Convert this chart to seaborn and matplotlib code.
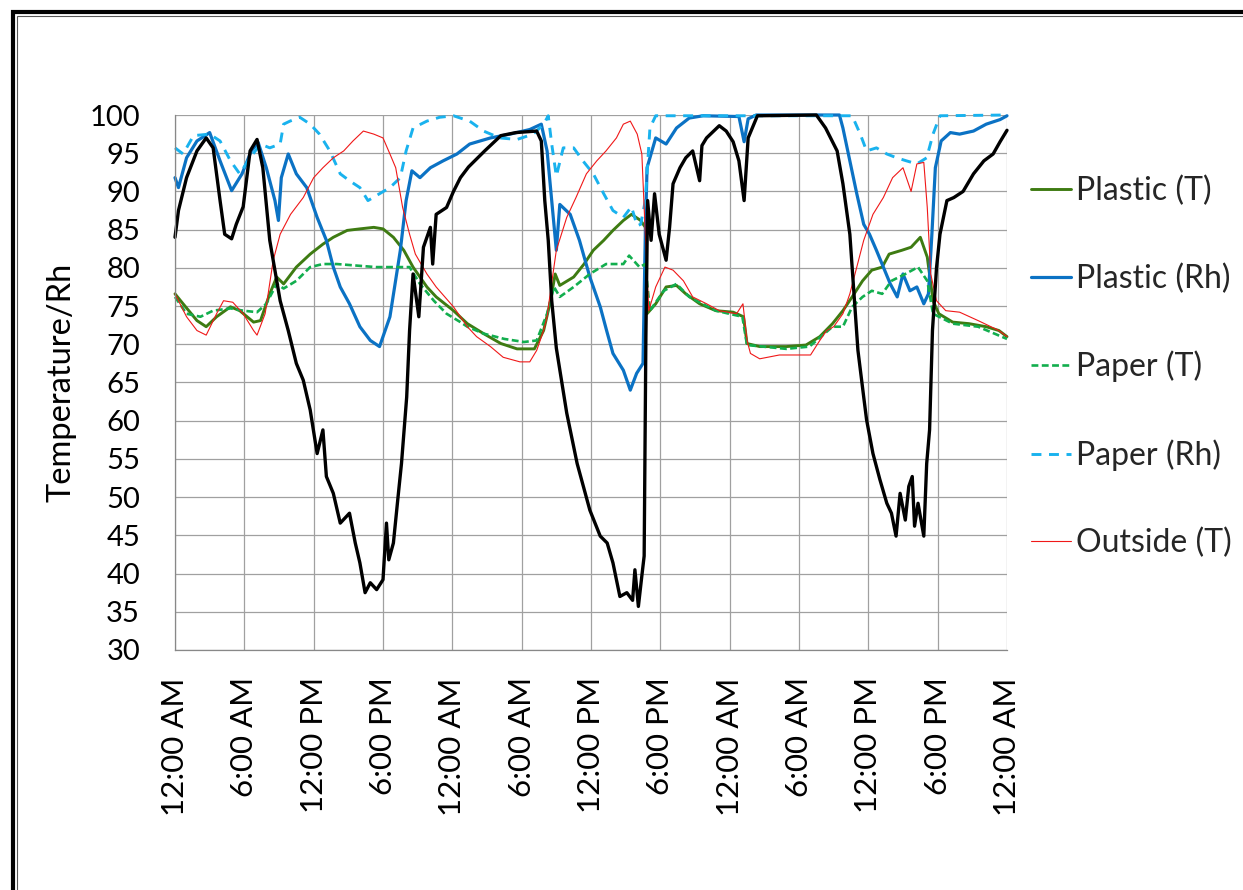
import matplotlib
matplotlib.use("Agg")
import matplotlib.pyplot as plt
import pandas as pd
import seaborn as sns
from matplotlib.lines import Line2D

# (hour since start, reading) pairs for each logger channel, three days of data
PLASTIC_T = [
    (0, 76.6), (0.7, 75.3), (1.9, 73.1), (2.7, 72.3), (3.6, 73.6), (4.8, 74.9), (5.6, 74.4),
    (6.8, 72.9), (7.4, 73.1), (8.2, 76.6), (8.8, 78.8), (9.4, 77.9), (10.5, 80.1), (11.7, 81.8),
    (12.8, 83.1), (13.7, 84.0), (14.9, 84.9), (16.0, 85.1), (17.2, 85.3), (18.0, 85.1),
    (18.9, 84.0), (19.8, 82.3), (20.6, 80.1), (21.8, 77.5), (22.6, 76.2), (24.1, 74.4),
    (25.3, 72.7), (26.7, 71.4), (28.2, 70.1), (29.6, 69.4), (31.1, 69.4), (31.9, 71.8),
    (32.5, 75.7), (32.9, 79.2), (33.3, 77.7), (34.5, 78.8), (35.4, 80.5), (36.2, 82.3),
    (37.1, 83.6), (37.9, 84.9), (38.8, 86.2), (39.5, 87.0), (40.3, 86.2), (40.7, 85.3),
    (40.85, 74.0), (41.6, 75.3), (42.5, 77.5), (43.4, 77.7), (44.2, 76.6), (45.4, 75.3),
    (46.8, 74.4), (48.3, 74.2), (49.2, 73.6), (49.5, 70.1), (50.6, 69.7), (52.9, 69.7),
    (54.6, 69.9), (55.8, 71.0), (56.9, 72.7), (57.8, 74.4), (58.6, 76.2), (59.5, 78.3),
    (60.3, 79.7), (61.2, 80.1), (61.8, 81.8), (62.9, 82.3), (63.7, 82.7), (64.5, 84.0),
    (65.1, 81.4), (65.6, 75.7), (66.1, 74.0), (67.3, 72.9), (68.7, 72.7), (70.2, 72.3),
    (71.3, 71.8), (72.0, 71.0),
]

PLASTIC_RH = [
    (0, 91.8), (0.3, 90.5), (1.0, 94.4), (1.9, 96.6), (3.0, 97.7), (3.9, 94.0), (4.9, 90.1),
    (5.8, 92.3), (6.6, 95.3), (7.2, 96.4), (7.9, 93.1), (8.65, 88.8), (8.95, 86.2), (9.2, 91.8),
    (9.8, 94.9), (10.5, 92.3), (11.4, 90.5), (12.3, 86.6), (13.1, 83.6), (13.7, 80.1),
    (14.3, 77.5), (15.1, 75.3), (16.0, 72.3), (16.9, 70.5), (17.7, 69.7), (18.6, 73.6),
    (19.5, 82.3), (20.0, 88.8), (20.5, 92.7), (21.2, 91.8), (22.1, 93.1), (23.2, 94.0),
    (24.4, 94.9), (25.5, 96.2), (27.3, 97.0), (29.0, 97.5), (30.7, 98.1), (31.7, 98.8),
    (32.2, 95.3), (32.6, 88.8), (33.0, 82.3), (33.3, 88.3), (34.2, 87.0), (35.0, 83.6),
    (35.9, 78.8), (36.8, 74.9), (37.35, 71.8), (37.9, 68.8), (38.8, 66.6), (39.4, 64.0),
    (39.95, 66.2), (40.5, 67.5), (40.7, 84.4), (40.85, 93.1), (41.6, 97.0), (42.5, 96.2),
    (43.4, 98.3), (44.5, 99.6), (45.7, 99.9), (48.8, 99.8), (49.25, 96.5), (49.6, 99.5),
    (50.3, 100.0), (57.5, 100.0), (57.8, 98.3), (58.4, 94.0), (59.0, 89.7), (59.6, 85.7),
    (60.1, 84.4), (60.7, 82.3), (61.3, 80.1), (61.9, 77.9), (62.5, 76.2), (63.0, 79.2),
    (63.6, 77.0), (64.2, 77.5), (64.8, 75.3), (65.2, 76.6), (65.5, 84.4), (65.8, 93.1),
    (66.3, 96.6), (67.1, 97.7), (67.9, 97.5), (69.1, 97.9), (70.2, 98.8), (71.4, 99.4),
    (72.0, 99.9),
]

PAPER_T = [
    (0, 76.2), (1.0, 74.0), (2.2, 73.6), (3.3, 74.4), (4.8, 74.7), (5.9, 74.4), (7.1, 74.2),
    (7.9, 75.3), (8.8, 77.9), (9.4, 77.3), (10.5, 78.3), (11.7, 80.1), (12.8, 80.5),
    (14.0, 80.5), (15.7, 80.3), (17.4, 80.1), (19.1, 80.1), (20.3, 80.1), (21.2, 77.9),
    (22.4, 75.7), (23.5, 74.0), (24.7, 72.9), (25.3, 72.3), (26.7, 71.4), (28.5, 70.7),
    (30.2, 70.3), (31.3, 70.5), (32.2, 74.0), (32.8, 77.5), (33.3, 76.2), (34.5, 77.5),
    (35.9, 79.2), (37.3, 80.5), (38.8, 80.5), (39.3, 81.6), (40.2, 80.1), (40.7, 80.5),
    (41.1, 74.4), (42.3, 77.0), (43.4, 77.9), (44.5, 76.2), (46.8, 74.4), (49.1, 73.6),
    (49.5, 69.9), (52.9, 69.4), (54.9, 69.7), (56.9, 72.3), (57.8, 72.3), (58.6, 74.9),
    (59.5, 76.2), (60.3, 77.0), (61.2, 76.6), (62.0, 78.3), (63.2, 79.2), (64.3, 80.1),
    (65.1, 78.3), (65.6, 74.0), (67.3, 72.7), (69.5, 72.3), (72.0, 70.7),
]

PAPER_RH = [
    (0, 95.7), (0.7, 94.9), (1.6, 97.3), (3.0, 97.5), (3.9, 96.6), (4.8, 94.0), (5.6, 92.3),
    (6.5, 94.4), (7.4, 96.2), (8.2, 95.7), (9.1, 96.2), (9.4, 98.8), (9.95, 99.2),
    (10.8, 99.7), (11.7, 98.8), (12.5, 97.5), (13.4, 95.3), (14.3, 92.3), (15.1, 91.4),
    (16.0, 90.5), (16.7, 88.8), (17.7, 89.7), (18.6, 90.5), (19.5, 91.8), (20.0, 95.3),
    (20.6, 98.3), (21.8, 99.2), (22.9, 99.7), (24.1, 99.9), (25.5, 99.2), (26.7, 97.9),
    (28.1, 97.0), (29.6, 96.8), (31.0, 97.5), (31.9, 98.8), (32.3, 99.9), (32.6, 96.2),
    (33.0, 92.0), (33.6, 95.7), (34.5, 95.7), (35.3, 94.0), (36.2, 92.3), (37.1, 89.7),
    (37.9, 87.5), (38.8, 86.6), (39.5, 88.0), (40.0, 85.5), (40.3, 85.7), (40.7, 88.8),
    (41.1, 98.3), (41.6, 99.9), (58.6, 99.9), (59.3, 97.5), (59.85, 95.3), (60.7, 95.7),
    (61.6, 94.9), (62.45, 94.4), (63.3, 94.0), (64.2, 93.6), (65.05, 94.4), (65.6, 97.5),
    (66.2, 99.9), (72.0, 100.0),
]

OUTSIDE_T = [
    (0, 76.6), (1.0, 73.6), (1.9, 71.8), (2.7, 71.2), (3.6, 74.0), (4.2, 75.7), (5.0, 75.5),
    (5.9, 74.0), (6.8, 71.8), (7.1, 71.2), (7.8, 74.0), (8.5, 81.0), (9.1, 84.4), (10.0, 87.0),
    (11.1, 89.2), (12.0, 91.8), (12.8, 93.1), (13.7, 94.4), (14.6, 95.3), (15.4, 96.6),
    (16.3, 97.9), (17.2, 97.5), (18.0, 97.0), (18.6, 94.9), (19.1, 93.1), (19.7, 87.9),
    (20.3, 84.4), (20.8, 81.8), (21.8, 79.2), (22.6, 77.5), (24.1, 74.9), (25.3, 72.3),
    (26.1, 71.0), (27.3, 69.7), (28.4, 68.3), (29.85, 67.7), (30.7, 67.7), (31.3, 69.2),
    (31.9, 71.8), (32.2, 73.6), (32.5, 77.0), (33.0, 82.3), (33.9, 86.6), (34.7, 89.2),
    (35.6, 92.3), (36.5, 94.0), (37.3, 95.3), (38.2, 97.0), (38.8, 98.8), (39.4, 99.2),
    (40.0, 97.5), (40.4, 94.9), (40.7, 84.4), (41.0, 74.4), (41.6, 77.5), (42.4, 80.1),
    (43.1, 79.7), (44.0, 78.3), (44.8, 76.2), (46.0, 75.3), (47.1, 74.4), (48.6, 74.0),
    (49.15, 75.3), (49.5, 70.5), (49.8, 68.8), (50.6, 68.1), (52.3, 68.6), (53.8, 68.6),
    (55.0, 68.6), (55.8, 70.5), (56.4, 71.8), (57.0, 72.3), (57.8, 74.0), (58.4, 76.6),
    (59.0, 80.1), (59.6, 83.6), (60.4, 87.0), (61.3, 89.2), (62.1, 91.8), (63.0, 93.1),
    (63.7, 90.0), (64.2, 93.6), (64.8, 93.8), (65.1, 87.9), (65.4, 79.2), (65.9, 75.7),
    (66.7, 74.4), (67.9, 74.2), (69.5, 73.1), (71.3, 71.8), (72.0, 71.0),
]

OUTSIDE_RH = [
    (0, 84.0), (0.3, 87.5), (1.0, 91.8), (1.9, 95.3), (2.7, 97.0), (3.3, 95.7), (3.9, 88.8),
    (4.3, 84.4), (4.9, 83.8), (5.3, 85.7), (5.9, 88.0), (6.5, 95.3), (7.1, 96.8), (7.6, 93.1),
    (8.2, 83.6), (9.1, 75.7), (9.8, 71.8), (10.5, 67.5), (11.1, 65.3), (11.7, 61.4),
    (12.3, 55.7), (12.8, 58.8), (13.1, 52.7), (13.7, 50.5), (14.3, 46.6), (15.1, 47.9),
    (15.6, 44.0), (16.0, 41.4), (16.45, 37.5), (16.9, 38.8), (17.45, 37.9), (18.0, 39.2),
    (18.3, 46.6), (18.5, 41.8), (18.9, 44.0), (19.3, 50.0), (19.6, 54.4), (20.05, 63.1),
    (20.3, 71.8), (20.6, 79.2), (21.1, 73.6), (21.5, 82.7), (22.1, 85.3), (22.3, 80.5),
    (22.6, 87.0), (23.5, 87.9), (24.1, 90.0), (24.7, 91.8), (25.4, 93.2), (26.8, 95.3),
    (28.2, 97.3), (29.5, 97.7), (31.3, 97.9), (31.7, 96.6), (32.0, 88.8), (32.3, 83.6),
    (32.6, 75.7), (33.0, 69.5), (33.9, 61.0), (34.8, 54.4), (35.9, 48.3), (36.8, 44.9),
    (37.4, 44.0), (37.9, 41.4), (38.5, 37.0), (39.1, 37.5), (39.6, 36.5), (39.8, 40.5),
    (40.1, 35.7), (40.4, 39.7), (40.6, 42.3), (40.75, 71.0), (40.9, 88.8), (41.2, 83.6),
    (41.5, 89.7), (41.9, 84.4), (42.5, 81.0), (42.8, 85.3), (43.1, 91.0), (43.7, 93.1),
    (44.2, 94.4), (44.8, 95.3), (45.4, 91.4), (45.6, 96.0), (46.0, 97.0), (47.1, 98.6),
    (47.7, 97.9), (48.3, 96.5), (48.8, 94.0), (49.25, 88.8), (49.6, 97.0), (50.4, 99.9),
    (55.5, 100.0), (56.3, 98.3), (57.3, 95.3), (57.8, 91.0), (58.4, 84.4), (58.8, 75.7),
    (59.1, 69.2), (59.6, 63.1), (59.85, 60.1), (60.4, 55.7), (61.0, 52.3), (61.6, 49.2),
    (62.0, 47.9), (62.4, 44.9), (62.75, 50.5), (63.2, 47.0), (63.5, 51.4), (63.8, 52.7),
    (64.0, 46.2), (64.3, 49.2), (64.8, 44.9), (65.05, 54.4), (65.3, 58.8), (65.55, 71.8),
    (65.9, 80.0), (66.2, 84.4), (66.8, 88.8), (67.4, 89.2), (68.2, 90.0), (69.1, 92.3),
    (70.0, 94.0), (70.8, 94.9), (71.4, 96.5), (72.0, 98.0),
]

TICK_HOURS = list(range(0, 73, 6))
TICK_LABELS = ["12:00 AM", "6:00 AM", "12:00 PM", "6:00 PM"] * 3 + ["12:00 AM"]
Y_TICKS = list(range(30, 101, 5))

sns.set_theme(style="white")
plt.rcParams["font.family"] = ["Lato", "DejaVu Sans"]

W, H = 1243, 890
fig = plt.figure(figsize=(W / 100, H / 100), dpi=100)
ax = fig.add_axes([175 / W, 1 - 650 / H, 832 / W, 535 / H])

# name, data, colour, width, dash pattern, shown in legend
channels = [
    ("Plastic (T)", PLASTIC_T, "#3E7B12", 2.1, None, True),
    ("Plastic (Rh)", PLASTIC_RH, "#0B72C4", 2.3, None, True),
    ("Paper (T)", PAPER_T, "#12AE4E", 1.9, (2.6, 1.3), True),
    ("Paper (Rh)", PAPER_RH, "#19B2EE", 2.1, (3.4, 2.6), True),
    ("Outside (T)", OUTSIDE_T, "#F01818", 0.8, None, True),
    ("Outside (Rh)", OUTSIDE_RH, "#000000", 2.4, None, False),
]

handles = []
for name, pairs, color, lw, dashes, in_legend in channels:
    df = pd.DataFrame(pairs, columns=["hour", "value"])
    sns.lineplot(data=df, x="hour", y="value", ax=ax, color=color, linewidth=lw,
                 estimator=None, sort=False, legend=False)
    line = ax.lines[-1]
    line.set_clip_on(False)
    line.set_solid_joinstyle("round")
    if dashes is not None:
        line.set_linestyle((0, dashes))
    if in_legend:
        handles.append(Line2D([], [], color=color, linewidth=lw,
                              linestyle=(0, dashes) if dashes else "-", label=name))

ax.set_xlim(0, 72)
ax.set_ylim(30, 100)
ax.set_xticks(TICK_HOURS)
ax.set_xticklabels(TICK_LABELS, rotation=90)
ax.set_yticks(Y_TICKS)
ax.set_xlabel("")
ax.set_ylabel("Temperature/Rh", fontsize=23.5, color="black")
ax.yaxis.set_label_coords(-0.118, 0.5)

grid_color = "#A0A0A0"
ax.grid(True, color=grid_color, linewidth=0.9)
ax.set_axisbelow(True)
for side in ("top", "right"):
    ax.spines[side].set_visible(False)
for side in ("left", "bottom"):
    ax.spines[side].set_color("#888888")
    ax.spines[side].set_linewidth(0.9)

ax.tick_params(axis="both", which="major", direction="out", length=8.6, width=0.9,
               color="#888888", labelcolor="black")
ax.tick_params(axis="y", pad=16.5, labelsize=21)
ax.tick_params(axis="x", pad=11, labelsize=22.5)

leg = fig.legend(handles=handles, loc="upper left", bbox_to_anchor=(1031 / W, 1 - 176 / H),
                 frameon=False, fontsize=23, handlelength=1.25, handletextpad=0.15,
                 labelspacing=1.78, borderpad=0, borderaxespad=0)

# page border around the chart
fig.add_artist(Line2D([13 / W, 13 / W, 1], [0, 1 - 11.5 / H, 1 - 11.5 / H],
                      transform=fig.transFigure, color="black", linewidth=3.0,
                      solid_joinstyle="miter"))
fig.add_artist(Line2D([17 / W, 17 / W, 1], [0, 1 - 15.5 / H, 1 - 15.5 / H],
                      transform=fig.transFigure, color="#555555", linewidth=0.8,
                      solid_joinstyle="miter"))

fig.savefig("out.png", dpi=100)
